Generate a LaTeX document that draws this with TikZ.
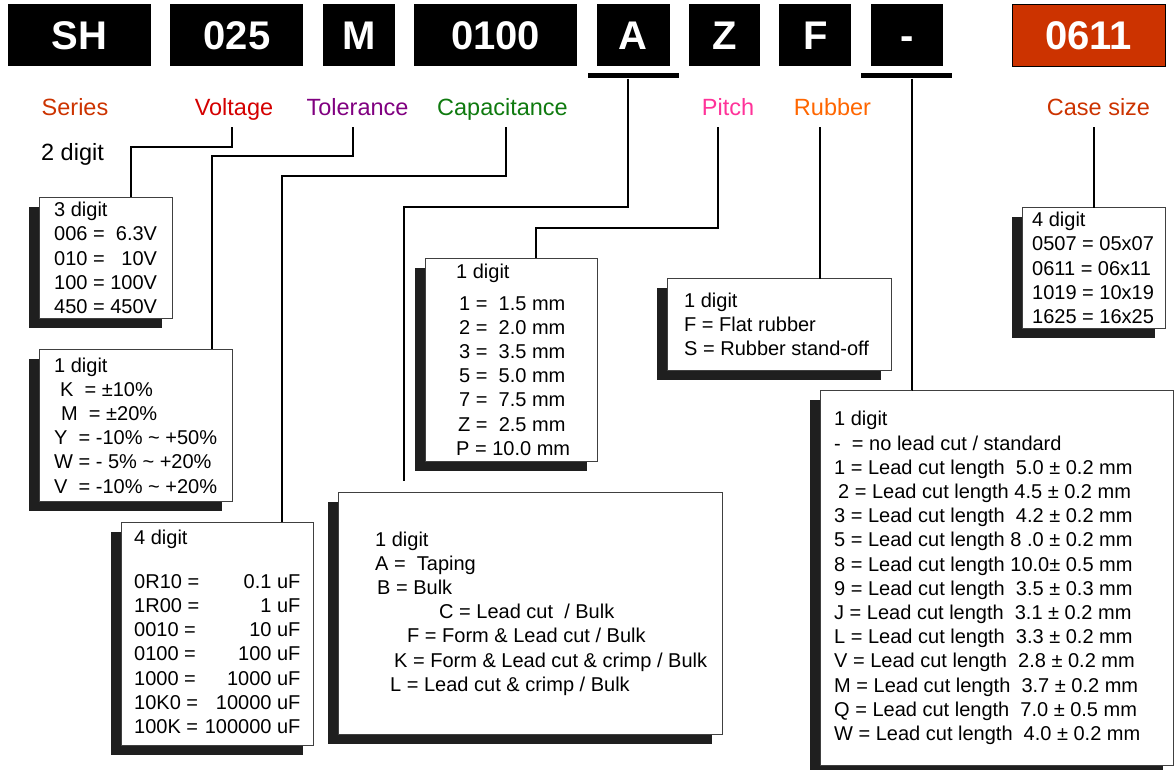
\documentclass[tikz,border=0pt]{standalone}
\usepackage{fontspec}
\setmainfont{Liberation Sans}
\usetikzlibrary{positioning,shadows}

\definecolor{seriesred}{HTML}{CC3300}
\definecolor{voltred}{HTML}{D40000}
\definecolor{tolpurple}{HTML}{800080}
\definecolor{capgreen}{HTML}{0F7A0F}
\definecolor{pitchpink}{HTML}{FF3399}
\definecolor{rubborange}{HTML}{FF6600}

\begin{document}
\begin{tikzpicture}[x=1pt,y=-1pt,
        code/.style={rectangle,fill=black,text=white,minimum height=62pt,inner sep=0pt,text height=28.6pt,text depth=0pt,font=\fontsize{40}{44}\selectfont\bfseries},
        bar/.style={rectangle,fill=black,minimum width=91pt,minimum height=5pt,inner sep=0pt},
        tag/.style={font=\fontsize{23.5}{28}\selectfont,inner sep=0pt,text depth=4pt,outer ysep=8pt,anchor=base},
        panel/.style={rectangle,draw=black!75,line width=0.9pt,fill=white,anchor=north west,inner sep=0pt,
            drop shadow={shadow xshift=-10pt,shadow yshift=-10pt,fill=black!88,opacity=1}},
        entry/.style={font=\fontsize{20}{24.2}\selectfont,align=left,anchor=west,inner sep=0pt},
        link/.style={line width=2pt},
    ]
    \useasboundingbox (0,0) rectangle (1176,769);

    % === part number ===
    \node[code,minimum width=143pt] (sh) at (79.5,35) {SH};
    \node[code,minimum width=133pt,right=19pt of sh] (volt) {025};
    \node[code,minimum width=72pt,right=19pt of volt] (tol) {M};
    \node[code,minimum width=163pt,right=19pt of tol] (cap) {0100};
    \node[code,minimum width=73pt,right=19pt of cap] (pack) {A};
    \node[code,minimum width=71pt,right=19pt of pack] (pitch) {Z};
    \node[code,minimum width=72pt,right=19pt of pitch] (rub) {F};
    \node[code,minimum width=72pt,right=19pt of rub] (cut) {-};
    \node[code,minimum width=153pt,fill=seriesred,draw=black,line width=1pt] (case) at (1088.5,35) {0611};
    \node[bar,below=7pt of pack] (abar) {};
    \node[bar,below=7pt of cut] (cutbar) {};

    % === field names ===
    \node[tag,text=seriesred] (serieslbl) at (75,115) {Series};
    \node[tag,text=voltred] (voltlbl) at (234,115) {Voltage};
    \node[tag,text=tolpurple] (tollbl) at (357.5,115) {Tolerance};
    \node[tag,text=capgreen] (caplbl) at (502.5,115) {Capacitance};
    \node[tag,text=pitchpink] (pitchlbl) at (728,115) {Pitch};
    \node[tag,text=rubborange] (rublbl) at (832.5,115) {Rubber};
    \node[tag,text=seriesred] (caselbl) at (1098.5,115) {Case size};
    \node[tag] (seriesdig) at (72.5,160) {2 digit};

    % === code tables ===
    \node[panel,minimum width=133pt,minimum height=121pt] (voltbox) at (39,197) {};
    \node[entry] (volttxt) at ([xshift=15pt]voltbox.west)
        {3 digit\\006 =~~6.3V\\010 =~~~10V\\100 = 100V\\450 = 450V};

    \node[panel,minimum width=193pt,minimum height=152pt] (tolbox) at (39,349) {};
    \node[entry] (toltxt) at ([xshift=15pt]tolbox.west)
        {1 digit\\
        \hspace*{6pt}K~~= ±10\%\\
        \hspace*{7pt}M~~= ±20\%\\
        Y~~= -10\% \textasciitilde{} +50\%\\
        W = - 5\% \textasciitilde{} +20\%\\
        V~~= -10\% \textasciitilde{} +20\%};

    \node[panel,minimum width=192pt,minimum height=223pt] (capbox) at (121,522) {};
    \node[entry] (captxt) at ([xshift=13pt]capbox.west)
        {\begin{tabular}{@{}l@{ }r@{}}
        4 digit & \\[20pt]
        0R10 = & 0.1 uF\\
        1R00 = & 1 uF\\
        0010 = & 10 uF\\
        0100 = & 100 uF\\
        1000 = & 1000 uF\\
        10K0 = & 10000 uF\\
        100K = & 100000 uF
        \end{tabular}};

    \node[panel,minimum width=172pt,minimum height=203pt] (pitchbox) at (425,258) {};
    \node[entry] (pitchtxt) at ([xshift=31pt]pitchbox.west)
        {1 digit\\[7pt]
        \hspace*{3pt}1 =~~1.5 mm\\
        \hspace*{3pt}2 =~~2.0 mm\\
        \hspace*{3pt}3 =~~3.5 mm\\
        \hspace*{3pt}5 =~~5.0 mm\\
        \hspace*{3pt}7 =~~7.5 mm\\
        \hspace*{2pt}Z =~~2.5 mm\\
        P = 10.0 mm};

    \node[panel,minimum width=224pt,minimum height=92pt] (rubbox) at (667,278) {};
    \node[entry] (rubtxt) at ([xshift=17pt]rubbox.west)
        {1 digit\\F = Flat rubber\\S = Rubber stand-off};

    \node[panel,minimum width=143pt,minimum height=121pt] (casebox) at (1022,207) {};
    \node[entry] (casetxt) at ([xshift=10pt]casebox.west)
        {4 digit\\0507 = 05x07\\0611 = 06x11\\1019 = 10x19\\1625 = 16x25};

    \node[panel,minimum width=384pt,minimum height=242pt] (packbox) at (338,492) {};
    \node[entry] (packtxt) at ([xshift=37pt]packbox.west)
        {1 digit\\
        A =~~Taping\\
        \hspace*{2pt}B = Bulk\\
        \hspace*{64pt}C = Lead cut~~/ Bulk\\
        \hspace*{32pt}F = Form \& Lead cut / Bulk\\
        \hspace*{19pt}K = Form \& Lead cut \& crimp / Bulk\\
        \hspace*{15pt}L = Lead cut \& crimp / Bulk};

    \node[panel,minimum width=353pt,minimum height=375pt] (cutbox) at (820,390) {};
    \node[entry] (cuttxt) at ([xshift=14pt]cutbox.west)
        {1 digit\\
        -~~= no lead cut / standard\\
        1 = Lead cut length~~5.0 ± 0.2 mm\\
        \hspace*{4pt}2 = Lead cut length 4.5 ± 0.2 mm\\
        3 = Lead cut length~~4.2 ± 0.2 mm\\
        5 = Lead cut length 8 .0 ± 0.2 mm\\
        8 = Lead cut length 10.0± 0.5 mm\\
        9 = Lead cut length~~3.5 ± 0.3 mm\\
        J = Lead cut length~~3.1 ± 0.2 mm\\
        L = Lead cut length~~3.3 ± 0.2 mm\\
        V = Lead cut length~~2.8 ± 0.2 mm\\
        M = Lead cut length~~3.7 ± 0.2 mm\\
        Q = Lead cut length~~7.0 ± 0.5 mm\\
        W = Lead cut length~~4.0 ± 0.2 mm};

    % === leaders ===
    \coordinate (packend) at (404,481);
    \draw[link] ([xshift=-2pt]voltlbl.south) -- ++(0,20) -| ([xshift=25.5pt]voltbox.north);
    \draw[link] ([xshift=-4.5pt]tollbl.south) -- ++(0,29) -| ([xshift=76pt]tolbox.north);
    \draw[link] ([xshift=3.5pt]caplbl.south) -- ++(0,49) -| ([xshift=65pt]capbox.north);
    \draw[link] ([xshift=-5pt]abar.south) -- ++(0,128) -| (packend);
    \draw[link] ([xshift=-10pt]pitchlbl.south) -- ++(0,101) -| ([xshift=25pt]pitchbox.north);
    \draw[link] ([xshift=-12.5pt]rublbl.south) |- ([xshift=41pt]rubbox.north);
    \draw[link] ([xshift=5.5pt]cutbar.south) |- ([xshift=-85pt]cutbox.north);
    \draw[link] ([xshift=-5pt]caselbl.south) |- (casebox.north);
\end{tikzpicture}
\end{document}
